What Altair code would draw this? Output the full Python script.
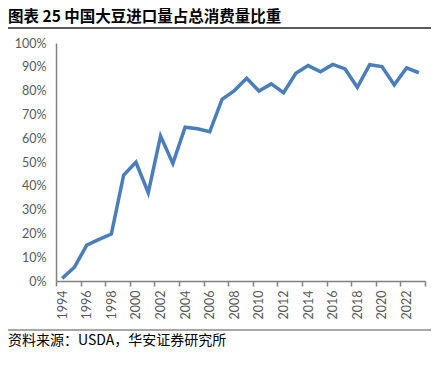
import altair as alt
import pandas as pd

years = list(range(1994, 2024))
share = [0.011, 0.058, 0.151, 0.175, 0.197, 0.445, 0.499, 0.371, 0.609, 0.494,
         0.646, 0.640, 0.627, 0.763, 0.800, 0.852, 0.798, 0.828, 0.791, 0.873,
         0.905, 0.879, 0.910, 0.891, 0.814, 0.909, 0.901, 0.824, 0.895, 0.875]
title_text = "图表 25 中国大豆进口量占总消费量比重"
source_text = "资料来源：USDA，华安证券研究所"

df = pd.DataFrame({"year": years, "share": share})

W, H = 369, 238
step = W / len(years)
tick_vals = [1993.5 + 2 * i for i in range(16)]

x_enc = alt.X(
    "year:Q",
    scale=alt.Scale(domain=[1993.5, 2023.5], nice=False, zero=False),
    axis=alt.Axis(
        values=tick_vals,
        labelExpr="datum.value > 2023 ? '' : toString(datum.value + 0.5)",
        labelOffset=step / 2,
        labelAngle=270,
        labelAlign="right",
        labelBaseline="middle",
        labelFlush=False,
        labelOverlap=False,
        labelBound=False,
        labelPadding=4,
        labelFontSize=12.5,
        labelColor="#595959",
        labelFont="Lato",
        tickSize=5,
        tickColor="#808080",
        tickWidth=1.5,
        domainColor="#808080",
        domainWidth=1.5,
        grid=False,
        title=None,
    ),
)
y_enc = alt.Y(
    "share:Q",
    scale=alt.Scale(domain=[0, 1], nice=False),
    axis=alt.Axis(
        values=[i / 10 for i in range(11)],
        format=".0%",
        ticks=False,
        labelPadding=10,
        labelFontSize=12.5,
        labelColor="#595959",
        labelFont="Lato",
        domainColor="#808080",
        domainWidth=1.5,
        grid=False,
        title=None,
    ),
)

line = alt.Chart(df).mark_line(color="#4a7ebb", strokeWidth=3.5, strokeJoin="miter").encode(x=x_enc, y=y_enc)

tdf = pd.DataFrame({"t": [title_text]})
title = alt.Chart(tdf).mark_text(
    align="left", baseline="top", fontSize=15.5, fontWeight="bold",
    font="Noto Sans CJK SC", color="#000000"
).encode(x=alt.value(-48), y=alt.value(-33), text="t:N")

top_rule = alt.Chart(tdf).mark_rule(color="#222222", strokeWidth=1.5).encode(
    x=alt.value(-48), x2=alt.value(379), y=alt.value(-15)
)
bottom_rule = alt.Chart(tdf).mark_rule(color="#8a8a8a", strokeWidth=1.5).encode(
    x=alt.value(-48), x2=alt.value(379), y=alt.value(287)
)

sdf = pd.DataFrame({"t": [source_text]})
source = alt.Chart(sdf).mark_text(
    align="left", baseline="middle", fontSize=14,
    font="Noto Sans CJK SC", color="#000000"
).encode(x=alt.value(-48), y=alt.value(298), text="t:N")

chart = alt.layer(line, title, top_rule, bottom_rule, source).properties(
    width=W, height=H,
    autosize=alt.AutoSizeParams(type="none"),
    padding={"left": 48, "top": 35, "right": 6, "bottom": 81},
).configure_view(stroke=None)

chart.save("out.html", embed_options={"renderer": "svg", "actions": False})
